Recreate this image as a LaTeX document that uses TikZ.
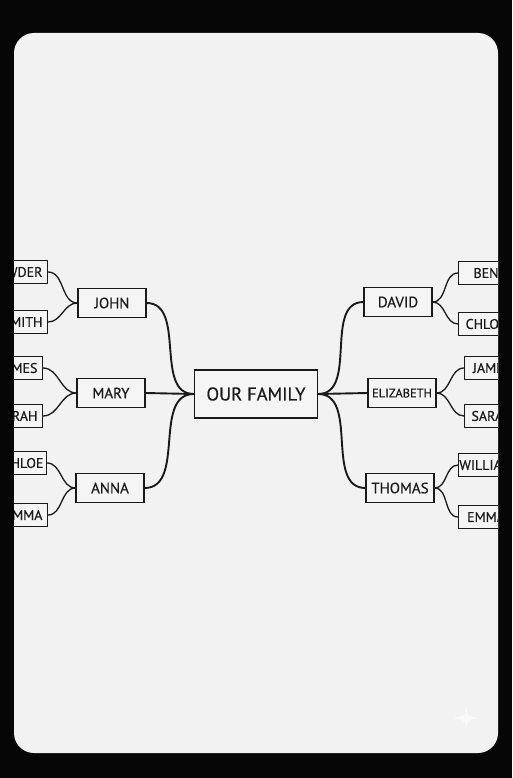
\documentclass[tikz,border=0pt]{standalone}
\usepackage{fontspec}
\setmainfont{PT Sans}[FakeBold=0.4]
\definecolor{outside}{HTML}{060606}
\definecolor{paper}{HTML}{F2F2F2}
\definecolor{boxfill}{HTML}{F5F5F5}
\definecolor{ink}{HTML}{1A1A1A}
\definecolor{sparkle}{HTML}{F9F9F9}

\begin{document}
\begin{tikzpicture}
[x=1pt,y=-1pt]
\tikzstyle{every node}=[draw=ink,line width=1.1pt,fill=boxfill,inner sep=0pt,text=ink]
\tikzstyle{rootbox}=[minimum width=123pt,minimum height=48pt,line width=1.4pt,font=\fontsize{18.5}{20}\selectfont]
\tikzstyle{memberbox}=[minimum width=68pt,minimum height=29pt,font=\fontsize{15}{17}\selectfont]
\tikzstyle{leafbox}=[minimum height=23pt,font=\fontsize{14}{15}\selectfont]
\tikzstyle{leftleaf}=[leafbox,anchor=east,inner xsep=5pt]
\tikzstyle{rightleaf}=[leafbox,anchor=west,minimum width=55pt]
\tikzstyle{branch}=[draw=ink,line width=1.9pt]
\tikzstyle{twig}=[draw=ink,line width=1.3pt]

\useasboundingbox (0,0) rectangle (512,778);
\fill[outside] (0,0) rectangle (512,778);
\fill[paper,rounded corners=20pt] (14,33) rectangle (498,753);
\fill[sparkle] (466,704) .. controls (467,716) .. (480,718)
  .. controls (467,720) .. (466,732) .. controls (465,720) .. (452,718)
  .. controls (465,716) .. cycle;

\begin{scope}
\clip[rounded corners=20pt] (14,33) rectangle (498,753);

% centre and first ring
\node[rootbox] (family) at (256,394) {OUR FAMILY};
\node[memberbox] (john) at (112,303) {JOHN};
\node[memberbox] (mary) at (111,393) {MARY};
\node[memberbox] (anna) at (110,488) {ANNA};
\node[memberbox] (david) at (398,302) {DAVID};
\node[memberbox,font=\fontsize{12.5}{14}\selectfont] (elizabeth) at (402,393) {ELIZABETH};
\node[memberbox] (thomas) at (400,488) {THOMAS};

% left leaves
\node[leftleaf] (lowder) at (48,272) {LOWDER};
\node[leftleaf] (smith) at (48,322) {SMITH};
\node[leftleaf] (jamesl) at (43,368) {JAMES};
\node[leftleaf] (sarahl) at (43,416) {SARAH};
\node[leftleaf,inner xsep=3pt] (chloel) at (47,463) {CHLOE};
\node[leftleaf] (emmal) at (48,515) {EMMA};

% right leaves
\node[rightleaf] (ben) at (458,273) {BEN};
\node[rightleaf] (chloe) at (458,324) {CHLOE};
\node[rightleaf] (james) at (464,368) {JAMES};
\node[rightleaf] (sarah) at (464,416) {SARAH};
\node[rightleaf] (william) at (458,465) {WILLIAM};
\node[rightleaf] (emma) at (458,517) {EMMA};

% branches
\draw[branch] (family.west) to[out=180,in=0] (john.east);
\draw[branch] (family.west) -- (mary.east);
\draw[branch] (family.west) to[out=180,in=0] (anna.east);
\draw[branch] (family.east) to[out=0,in=180] (david.west);
\draw[branch] (family.east) -- (elizabeth.west);
\draw[branch] (family.east) to[out=0,in=180] (thomas.west);

% twigs
\draw[twig] (john.west) to[out=180,in=0] (lowder.east);
\draw[twig] (john.west) to[out=180,in=0] (smith.east);
\draw[twig] (mary.west) to[out=180,in=0] (jamesl.east);
\draw[twig] (mary.west) to[out=180,in=0] (sarahl.east);
\draw[twig] (anna.west) to[out=180,in=0] (chloel.east);
\draw[twig] (anna.west) to[out=180,in=0] (emmal.east);
\draw[twig] (david.east) to[out=0,in=180] (ben.west);
\draw[twig] (david.east) to[out=0,in=180] (chloe.west);
\draw[twig] (elizabeth.east) to[out=0,in=180] (james.west);
\draw[twig] (elizabeth.east) to[out=0,in=180] (sarah.west);
\draw[twig] (thomas.east) to[out=0,in=180] (william.west);
\draw[twig] (thomas.east) to[out=0,in=180] (emma.west);
\end{scope}
\end{tikzpicture}
\end{document}
